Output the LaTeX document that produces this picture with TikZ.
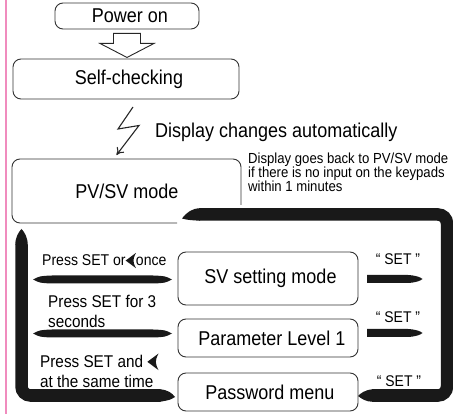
\documentclass[tikz,border=0pt]{standalone}
\usepackage{fontspec}
\setmainfont[FakeStretch=0.9]{Liberation Sans}
\usetikzlibrary{arrows.meta,calc}
\definecolor{pinkline}{RGB}{240,140,190}
\definecolor{ink}{RGB}{25,25,25}
\newcommand{\chevr}{\tikz[baseline=0pt,x=1em,y=1em]{\fill[ink] (0,0.35) .. controls (0.3,0.56) .. (0.66,0.84) .. controls (0.54,0.62) and (0.50,0.46) .. (0.50,0.35) .. controls (0.50,0.24) and (0.54,0.08) .. (0.66,-0.14) .. controls (0.3,0.14) .. cycle;}}
\tikzset{
  boxline/.style={draw=black!80, line width=0.9pt, rounded corners=8pt},
  box/.style={boxline, inner sep=0pt},
  bigtxt/.style={font=\fontsize{20}{22}\selectfont},
  midtxt/.style={font=\fontsize{17}{20}\selectfont, inner sep=0pt, align=left},
  smalltxt/.style={font=\fontsize{14.6}{14}\selectfont, inner sep=0pt, align=left},
  settxt/.style={font=\fontsize{15.5}{16}\selectfont, inner sep=0pt},
  band/.style={draw=ink, line width=12.5pt, rounded corners=9pt},
  bandfill/.style={fill=ink, draw=none},
  hollow/.style={draw=black!85, line width=0.9pt, fill=white, line join=miter},
  bolt/.style={draw=black!85, line width=1.1pt, -{To[length=7pt,width=9pt]}},
}
\begin{document}
\begin{tikzpicture}[x=1pt,y=-1pt]
\useasboundingbox (0,0) rectangle (453,414);
% pink margin line
\draw[pinkline, line width=1.5pt] (6,0) -- (6,414);

% boxes
\node[box, bigtxt, minimum width=144pt, minimum height=26pt] (power) at (127,16) {\hspace*{6pt}Power on};
\node[box, bigtxt, minimum width=226pt, minimum height=40pt] (self) at (126,79) {\hspace*{6pt}Self-checking};
\node[bigtxt, inner sep=0pt] (pv) at (127,191) {PV/SV mode};
\draw[boxline] (177,223) -- (12,223) -- (12,159) -- (241,159) -- (241,205);
\node[box, bigtxt, minimum width=180pt, minimum height=53pt] (sv) at (268,278.5) {\hspace*{5pt}SV setting mode};
\node[box, bigtxt, minimum width=180pt, minimum height=38pt] (par) at (268,338) {\hspace*{8pt}Parameter Level 1};
\node[box, bigtxt, minimum width=180pt, minimum height=38pt] (pw) at (268,392) {\hspace*{4pt}Password menu};

% hollow arrow power -> self
\draw[hollow] (power.south) ++(-13.5,4) -- ++(27,0) -- ++(0,10) -- ++(13.5,0) -- ++(-27,14) -- ++(-27,-14) -- ++(13.5,0) -- cycle;

% lightning bolt self -> pv
\coordinate (b1) at (133,107);
\coordinate (b2) at (118,129);
\coordinate (b3) at (139,125.5);
\coordinate (b4) at (116.5,155);
\draw[bolt] (b1) -- (b2) -- (b3) -- (b4);
\node[font=\fontsize{20}{22}\selectfont, inner sep=0pt, anchor=base west] (auto) at (155,137.5) {Display changes automatically};

% timeout note
\node[smalltxt, anchor=north west] (note) at (248,152.5) {Display goes back to PV/SV mode\\if there is no input on the keypads\\within 1 minutes};

% right loop: password menu back to PV/SV mode
\draw[band] (372,395.5) -- (447,395.5) -- (447,214.5) -- (199,214.5);
\fill[bandfill] (372.5,389.25) .. controls (365,390) and (361,393) .. (358,396) .. controls (362,399) and (366,401.75) .. (372.5,401.75) -- cycle;
\fill[bandfill] (200,208.25) .. controls (192,208.5) and (187,212) .. (182,218.5) .. controls (188,220) .. (200,220.75) -- cycle;

% left loop: password menu to PV/SV mode
\draw[band] (160.5,395.5) -- (21.5,395.5) -- (21.5,244.5);
\fill[bandfill] (160,389.25) .. controls (168,390) and (172,393) .. (175,397) .. controls (170,400) .. (160,401.75) -- cycle;
\fill[bandfill] (15.25,245) .. controls (15.25,237) and (19,231.5) .. (21.5,229) .. controls (24,231.5) and (27.75,237) .. (27.75,245) -- cycle;

% left spindle arrows from sv and par
\fill[bandfill] (33,279.5) .. controls (40,276) .. (52,275.5) -- (153,275.5) .. controls (165,276) .. (172,279.5) .. controls (165,283) .. (153,283.5) -- (52,283.5) .. controls (40,283) .. cycle;
\fill[bandfill] (33,333.5) .. controls (40,330) .. (52,329.5) -- (153,329.5) .. controls (165,330) .. (172,333.5) .. controls (165,337) .. (153,337.5) -- (52,337.5) .. controls (40,337) .. cycle;

% right small arrows from sv and par
\fill[bandfill] (367,275) -- (408,275) .. controls (416,275.5) and (420,277) .. (422.5,279) .. controls (420,281) and (416,282.5) .. (408,283) -- (367,283) -- cycle;
\fill[bandfill] (367,329) -- (408,329) .. controls (416,329.5) and (420,331) .. (422.5,333) .. controls (420,335) and (416,336.5) .. (408,337) -- (367,337) -- cycle;

% labels
\node[settxt, anchor=base] (s1) at (398,265) {“ SET ”};
\node[settxt, anchor=base] (s2) at (398,323) {“ SET ”};
\node[settxt, anchor=base] (s3) at (399,386) {“ SET ”};

\node[font=\fontsize{15.6}{18}\selectfont, inner sep=0pt, anchor=base west] (l1) at (42,266) {Press SET or\chevr once};
\node[midtxt, anchor=north west] (l2) at (48,294.5) {Press SET for 3\\seconds};
\node[midtxt, anchor=north west] (l3) at (40,353.3) {Press SET and \chevr\\at the same time};
\end{tikzpicture}
\end{document}
